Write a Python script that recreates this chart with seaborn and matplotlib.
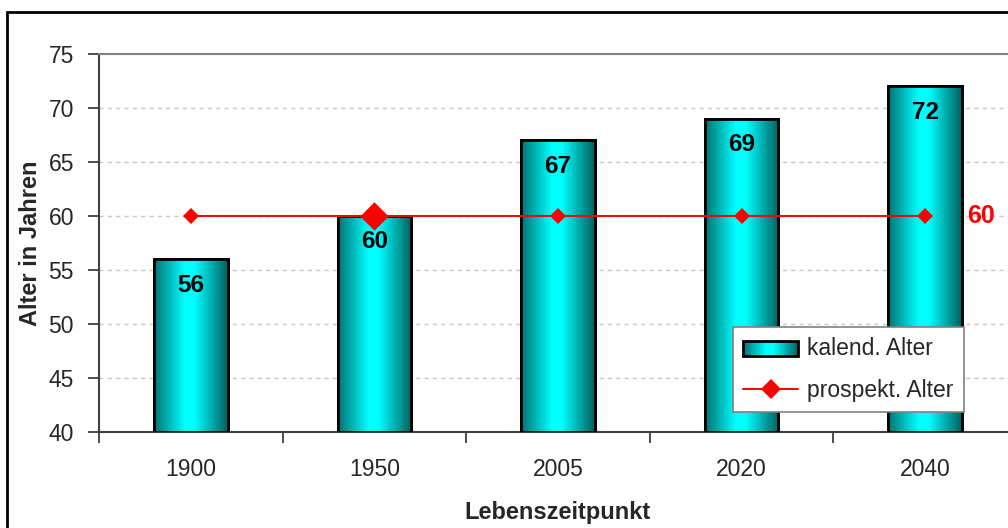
import numpy as np
import pandas as pd
import seaborn as sns
import matplotlib.pyplot as plt
from matplotlib.patches import Rectangle
from matplotlib.lines import Line2D
from matplotlib.legend_handler import HandlerBase
from matplotlib.colors import LinearSegmentedColormap

# ===== data =====
years = ["1900", "1950", "2005", "2020", "2040"]
kalend_alter = [56, 60, 67, 69, 72]
prospekt_alter = [60, 60, 60, 60, 60]
highlight = "1950"

sns.set_style("white")
plt.rcParams['font.family'] = ['Liberation Sans', 'DejaVu Sans']

# cylinder-like shading of the bars
grad = LinearSegmentedColormap.from_list(
    "cyl", [(0.0, "#007373"), (0.42, "#00ffff"), (0.55, "#00ffff"), (1.0, "#005f5f")])

df = pd.DataFrame({"jahr": years, "kalend": kalend_alter, "prospekt": prospekt_alter})
df["pos"] = np.arange(len(df))

fig = plt.figure(figsize=(10.08, 5.28), dpi=100)
ax = fig.add_axes([99 / 1008, 96 / 528, 918 / 1008, 378 / 528])

sns.barplot(data=df, x="jahr", y="kalend", color="#00ffff", width=0.40,
            edgecolor="black", linewidth=2, ax=ax, zorder=3)

ax.set_ylim(40, 75)
ax.set_xlim(-0.5, len(years) - 0.5)

# gradient fill, clipped to each bar
img = grad(np.linspace(0, 1, 256))[None, :, :]
for bar in ax.patches:
    x0, w = bar.get_x(), bar.get_width()
    h = bar.get_height()
    im = ax.imshow(img, extent=[x0, x0 + w, 40, h], aspect="auto", zorder=3.5,
                   interpolation="bilinear")
    im.set_clip_path(bar)
    edge = Rectangle((x0, 40), w, h - 40, fill=False, edgecolor="black", lw=2, zorder=4)
    ax.add_patch(edge)

# bar value labels
for i, v in enumerate(kalend_alter):
    ax.text(i, v - 2.4, str(v), ha="center", va="center", fontsize=17.5,
            fontweight="bold", color="black", zorder=6)

# prospective age line
sns.lineplot(data=df, x="pos", y="prospekt", color="red", lw=1.4, marker="D",
             markersize=8, markeredgewidth=0, ax=ax, zorder=5)
hl = df[df["jahr"] == highlight]
sns.scatterplot(data=hl, x="pos", y="prospekt", color="red", marker="D", s=210,
                linewidth=0, ax=ax, zorder=5.5)
ax.text(len(years) - 1 + 0.23, prospekt_alter[-1], str(prospekt_alter[-1]), color="red",
        fontsize=18, fontweight="bold", ha="left", va="center", zorder=6)

# grid and axes styling
for yv in range(45, 75, 5):
    ax.axhline(yv, color="#c8c8c8", lw=1, ls=(0, (3, 3)), zorder=1)
ax.spines["top"].set_color("#808080")
ax.spines["top"].set_linewidth(1.5)
ax.spines["right"].set_visible(False)
for s in ["left", "bottom"]:
    ax.spines[s].set_color("#404040")
    ax.spines[s].set_linewidth(1.5)

ax.set_yticks(range(40, 80, 5))
ax.tick_params(axis="y", direction="out", length=8, width=1.3, color="#404040",
               labelsize=16.5, pad=10, left=True)
ax.set_xticks(df["pos"])
ax.set_xticklabels(years)
ax.set_xticks(np.arange(-0.5, len(years), 1), minor=True)
ax.tick_params(axis="x", which="major", length=0, labelsize=16.5, pad=19)
ax.tick_params(axis="x", which="minor", direction="out", length=8, width=1.3,
               color="#404040", bottom=True)

ax.set_xlabel("Lebenszeitpunkt", fontsize=17, fontweight="bold", labelpad=14)
ax.set_ylabel("Alter in Jahren", fontsize=17, fontweight="bold", labelpad=5)


# legend with a shaded bar swatch
class GradientHandler(HandlerBase):
    def create_artists(self, legend, orig, xd, yd, width, height, fontsize, trans):
        arts = []
        n = 30
        for k in range(n):
            c = grad((k + 0.5) / n)
            arts.append(Rectangle((xd + width * k / n, yd), width / n + 0.3, height,
                                  facecolor=c, edgecolor="none", transform=trans))
        arts.append(Rectangle((xd, yd), width, height, fill=False, edgecolor="black",
                              lw=2, transform=trans))
        return arts


bar_handle = Rectangle((0, 0), 1, 1)
line_handle = Line2D([], [], color="red", lw=1.4, marker="D", markersize=10, markeredgewidth=0)
leg = ax.legend([bar_handle, line_handle], ["kalend. Alter", "prospekt. Alter"],
                handler_map={Rectangle: GradientHandler()},
                loc="upper left", bbox_to_anchor=(733 / 1008, 1 - 327 / 528),
                bbox_transform=fig.transFigure, borderaxespad=0, fontsize=16.5,
                frameon=True, fancybox=False, edgecolor="#808080", framealpha=1,
                handlelength=2.4, handleheight=0.64, labelspacing=0.8,
                borderpad=0.45, handletextpad=0.4)
leg.get_frame().set_linewidth(1.2)
leg.set_zorder(10)

# outer chart frame
fig.patches.append(Rectangle((7 / 1008, -0.1), 1.2, 1 - 12 / 528 + 0.1, fill=False,
                             edgecolor="black", lw=2, transform=fig.transFigure))

fig.savefig("out.png", dpi=100)
